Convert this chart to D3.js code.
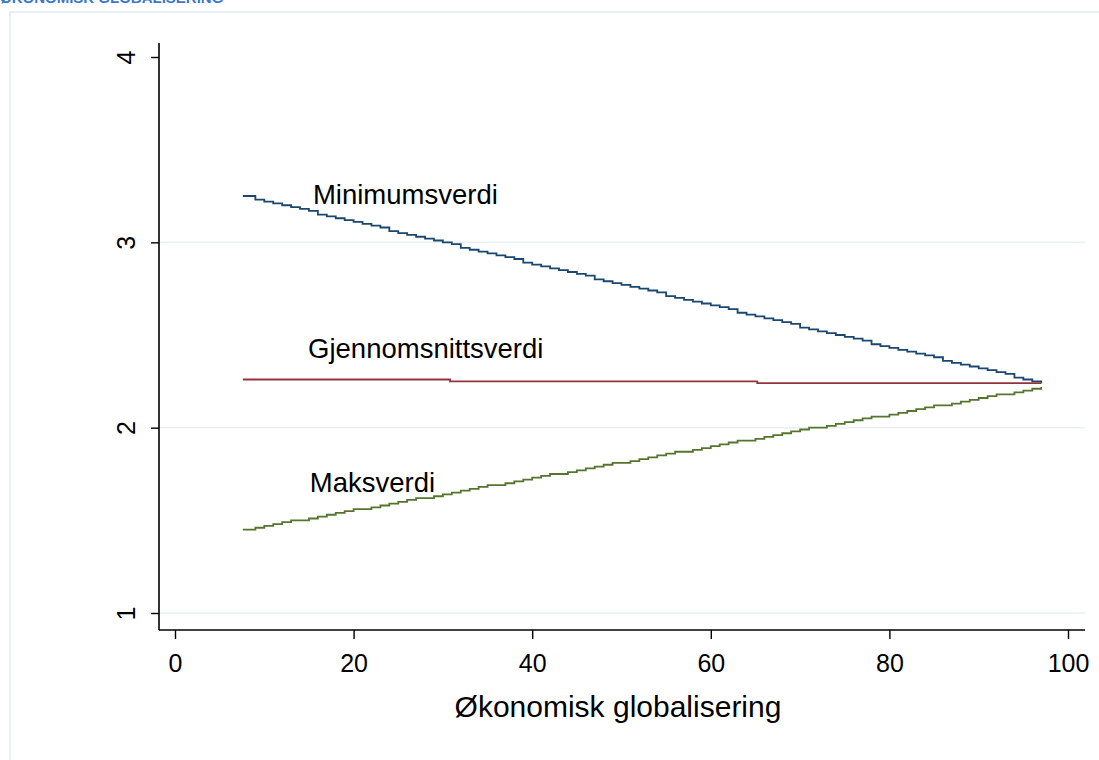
<!DOCTYPE html>
<html><head><meta charset="utf-8">
<script src="https://cdn.jsdelivr.net/npm/d3@7"></script>
<style>body{margin:0;background:#fff}svg{display:block}</style>
</head><body>
<svg id="c" width="1099" height="760"></svg>
<script>
const xValues = [7.6,9,10,11,12,13,14,15,16,17,18,19,20,21,22,23,24,25,26,27,28,29,30,31,32,33,34,35,36,37,38,39,40,41,42,43,44,45,46,47,48,49,50,51,52,53,54,55,56,57,58,59,60,61,62,63,64,65,66,67,68,69,70,71,72,73,74,75,76,77,78,79,80,81,82,83,84,85,86,87,88,89,90,91,92,93,94,95,96,97];
const minValues = [3.25,3.23,3.22,3.21,3.20,3.19,3.18,3.17,3.15,3.14,3.13,3.12,3.11,3.10,3.09,3.08,3.06,3.05,3.04,3.03,3.02,3.01,3.00,2.99,2.97,2.96,2.95,2.94,2.93,2.92,2.91,2.89,2.88,2.87,2.86,2.85,2.84,2.83,2.82,2.80,2.79,2.78,2.77,2.76,2.75,2.74,2.73,2.71,2.70,2.69,2.68,2.67,2.66,2.65,2.64,2.62,2.61,2.60,2.59,2.58,2.57,2.56,2.54,2.53,2.52,2.51,2.50,2.49,2.48,2.47,2.45,2.44,2.43,2.42,2.41,2.40,2.39,2.38,2.36,2.35,2.34,2.33,2.32,2.31,2.30,2.29,2.27,2.26,2.25,2.24];
const maxValues = [1.45,1.46,1.47,1.48,1.49,1.50,1.50,1.51,1.52,1.53,1.54,1.55,1.56,1.56,1.57,1.58,1.59,1.60,1.61,1.62,1.62,1.63,1.64,1.65,1.66,1.67,1.68,1.69,1.69,1.70,1.71,1.72,1.73,1.74,1.75,1.75,1.76,1.77,1.78,1.79,1.80,1.81,1.81,1.82,1.83,1.84,1.85,1.86,1.87,1.87,1.88,1.89,1.90,1.91,1.92,1.93,1.93,1.94,1.95,1.96,1.97,1.98,1.99,2.00,2.00,2.01,2.02,2.03,2.04,2.05,2.06,2.06,2.07,2.08,2.09,2.10,2.11,2.12,2.12,2.13,2.14,2.15,2.16,2.17,2.18,2.18,2.19,2.20,2.21,2.22];
const meanX = [7.6,30.8,65.2,97];
const meanValues = [2.26,2.25,2.24,2.24];
const xTicks = [0,20,40,60,80,100];
const yTicks = [1,2,3,4];
const seriesLabels = ["Minimumsverdi","Gjennomsnittsverdi","Maksverdi"];
const labelPos = [[15.45,3.207],[14.9,2.376],[15.1,1.653]];
const xTitle = "Økonomisk globalisering";
const headerText = "ØKONOMISK GLOBALISERING";

const svg = d3.select("#c");
const font = "'Liberation Sans', Arial, sans-serif";
const x = d3.scaleLinear().domain([0,100]).range([175,1068]);
const y = d3.scaleLinear().domain([1,4]).range([613,57]);

// header cut off at top (as in the reference)
svg.append("text").attr("x",0).attr("y",3).attr("font-family",font).attr("font-weight","bold")
  .attr("font-size",15).attr("fill","#3a78c9").text(headerText);

// frame
svg.append("rect").attr("x",10).attr("y",12).attr("width",1120).attr("height",800)
  .attr("fill","none").attr("stroke","#e8f0f2").attr("stroke-width",2);

// gridlines
svg.append("g").selectAll("line").data(yTicks.filter(d=>d<4)).join("line")
  .attr("x1",159).attr("x2",1085).attr("y1",d=>y(d)).attr("y2",d=>y(d))
  .attr("stroke","#e8f0f2").attr("stroke-width",1.5);

// y axis
const ya = svg.append("g").attr("transform","translate(159,0)")
  .call(d3.axisLeft(y).tickValues(yTicks).tickSize(8).tickFormat(d3.format("d")));
ya.select(".domain").attr("d","M0,43V630").attr("stroke","#000").attr("stroke-width",1.6);
ya.selectAll(".tick line").attr("stroke","#000").attr("stroke-width",1.4);
ya.selectAll(".tick text").attr("font-family",font).attr("font-size",25).attr("fill","#000")
  .attr("x",0).attr("dy",0).attr("text-anchor","middle").attr("dominant-baseline","central")
  .attr("transform","translate(-33,0) rotate(-90)");

// x axis
const xa = svg.append("g").attr("transform","translate(0,630)")
  .call(d3.axisBottom(x).tickValues(xTicks).tickSize(9).tickFormat(d3.format("d")));
xa.select(".domain").attr("d","M159,0H1085").attr("stroke","#000").attr("stroke-width",1.6);
xa.selectAll(".tick line").attr("stroke","#000").attr("stroke-width",1.4);
xa.selectAll(".tick text").attr("font-family",font).attr("font-size",25).attr("fill","#000")
  .attr("y",42).attr("dy",0);

svg.append("text").attr("x",618).attr("y",717).attr("text-anchor","middle")
  .attr("font-family",font).attr("font-size",30).attr("fill","#000").text(xTitle);

const line = d3.line().curve(d3.curveStepAfter).x(d=>x(d[0])).y(d=>y(d[1]));
const series = [
  {vals: xValues.map((v,i)=>[v,minValues[i]]), color:"#1a476f"},
  {vals: meanX.map((v,i)=>[v,meanValues[i]]), color:"#90353b"},
  {vals: xValues.map((v,i)=>[v,maxValues[i]]), color:"#55752f"}
];
svg.append("g").selectAll("path").data(series).join("path")
  .attr("d",d=>line(d.vals)).attr("fill","none").attr("stroke",d=>d.color).attr("stroke-width",1.8);

svg.append("g").selectAll("text").data(seriesLabels).join("text")
  .attr("x",(d,i)=>x(labelPos[i][0])).attr("y",(d,i)=>y(labelPos[i][1]))
  .attr("font-family",font).attr("font-size",27.5).attr("fill","#000")
  .text(d=>d);
</script>
</body></html>
